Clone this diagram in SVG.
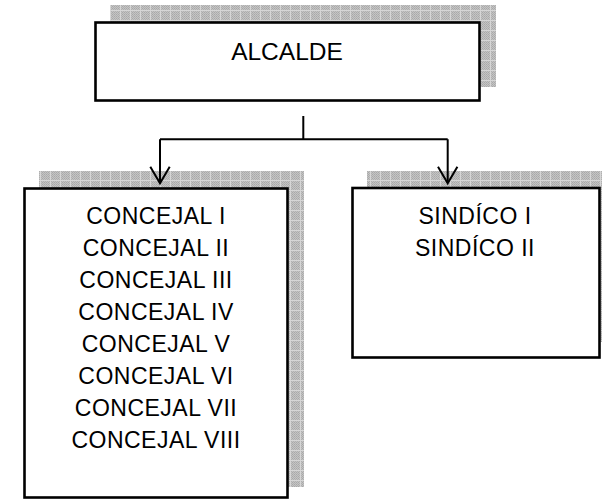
<svg xmlns="http://www.w3.org/2000/svg" width="602" height="501" viewBox="0 0 602 501">
<style>
.box{fill:#fff;stroke:#000;stroke-width:2.6}
.shadow{fill:url(#grid)}
.t{font-family:"Liberation Sans",Arial,sans-serif;font-size:23px;letter-spacing:0.5px;fill:#000;text-anchor:middle}
.big{font-size:24.5px;letter-spacing:0}
.conn{fill:none;stroke:#000;stroke-width:2}
</style>
<defs>
<pattern id="dots" width="2" height="2" patternUnits="userSpaceOnUse">
<rect width="2" height="2" fill="#c4c4c4"/>
<rect width="1" height="1" fill="#a8a8a8"/>
<rect x="1" y="1" width="1" height="1" fill="#b0b0b0"/>
</pattern>
<pattern id="grid" width="10" height="10" patternUnits="userSpaceOnUse">
<rect width="10" height="10" fill="url(#dots)"/>
<path d="M0 0.5H10M0.5 0V10" stroke="#d6d6d6" stroke-width="1"/>
</pattern>
</defs>
<g id="alcalde">
<rect class="shadow" x="110" y="5" width="386" height="82"/>
<rect class="box" x="95.5" y="22.5" width="384" height="78"/>
<text class="t big" x="287" y="60">ALCALDE</text>
</g>
<g id="concejales">
<rect class="shadow" x="39" y="171" width="265" height="316"/>
<rect class="box" x="24.5" y="188.5" width="263" height="309"/>
<text class="t" x="156" y="224">CONCEJAL I</text>
<text class="t" x="156" y="256">CONCEJAL II</text>
<text class="t" x="156" y="288">CONCEJAL III</text>
<text class="t" x="156" y="320">CONCEJAL IV</text>
<text class="t" x="156" y="352">CONCEJAL V</text>
<text class="t" x="156" y="384">CONCEJAL VI</text>
<text class="t" x="156" y="416">CONCEJAL VII</text>
<text class="t" x="156" y="448">CONCEJAL VIII</text>
</g>
<g id="sindicos">
<rect class="shadow" x="367" y="171" width="250" height="171"/>
<rect class="box" x="352.5" y="188" width="247" height="169.5"/>
<text class="t" x="475" y="224">SINDÍCO I</text>
<text class="t" x="475" y="256">SINDÍCO II</text>
</g>
<g id="connectors">
<path class="conn" d="M303.3 116V139.3M160 139.3H447.7M160 139.3V183M447.7 139.3V183"/>
<path class="conn" d="M150.3 166.7L160 183.3L169.7 166.7"/>
<path class="conn" d="M438 166.7L447.7 183.3L457.4 166.7"/>
</g>
</svg>
